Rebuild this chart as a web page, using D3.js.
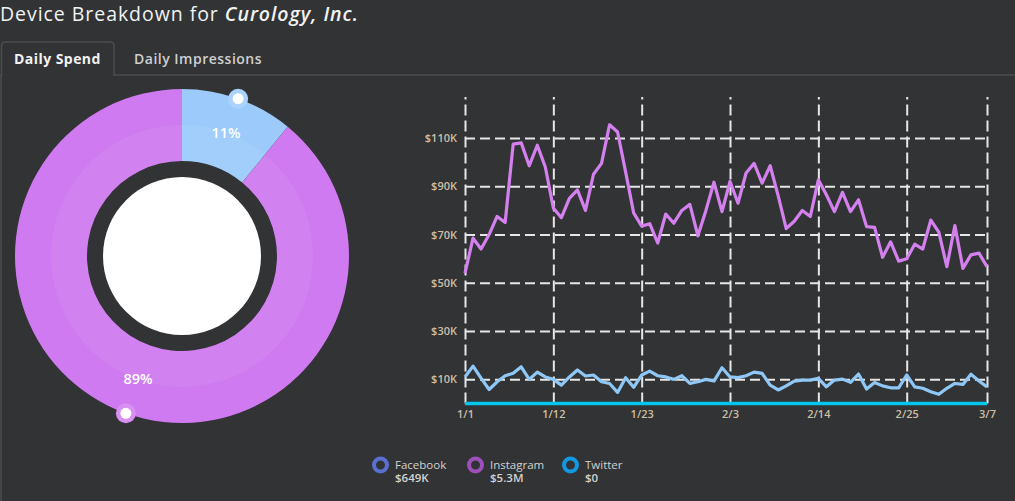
<!DOCTYPE html>
<html><head><meta charset="utf-8">
<script src="https://cdn.jsdelivr.net/npm/d3@7"></script>
<style>
html,body{margin:0;padding:0;background:#313335;}
svg{display:block;font-family:"Open Sans",sans-serif;}
</style></head><body>
<svg id="c" width="1015" height="501"></svg>
<script>
// ---- data ----
const shareLabels = ["Facebook", "Instagram"];
const shareValues = [649, 5300];          // $K
const legendNames = ["Facebook", "Instagram", "Twitter"];
const legendTotals = ["$649K", "$5.3M", "$0"];
const startDate = "2019-01-01";
const endDate = "2019-03-07";
const instagram = [54,68.5,64,70,77.5,75,107.5,108,98.5,107,98,81,77,85,88.5,80,95,99.5,115.5,112.5,
  96,79,73.5,74.5,66.5,78.5,74.7,80,82.5,69.5,80,91.7,79.5,92,83,95.5,99.5,91.3,98.5,86,
  72.5,75.5,80,77.5,92.7,86.5,79.5,87.5,79.5,84.4,73.3,73,60.6,67,59,60,66,64,76,71,
  56.7,73.7,56,61.6,62.3,56.7];
const facebook = [11,15.5,10.5,5.8,9,11.5,12.5,15.2,10,13,11,10,7.6,11,13.9,11.4,11.8,9,8.3,4.6,
  10.7,6.7,11.8,13.4,11.5,11,10,11.5,8.3,9,10,9.3,14.8,11,10.7,11.5,13,12.5,7.6,5.6,
  7.3,9.3,9.7,9.7,10.4,6.9,9.7,10.1,8.8,12.2,6,8.7,7.3,6.5,6.5,11.8,6.9,6.3,4.9,3.8,
  6.3,8.3,7.9,12.1,9.3,6.9];
const twitter = instagram.map(() => 0);
const xTickLabels = ["1/1","1/12","1/23","2/3","2/14","2/25","3/7"];
const yTickValues = [10,30,50,70,90,110];

const svg = d3.select("#c");
const parse = d3.timeParse("%Y-%m-%d");
const dates = d3.timeDay.range(parse(startDate), d3.timeDay.offset(parse(endDate), 1));

// ---- header & tabs ----
const title = svg.append("text").attr("x", 0).attr("y", 21)
  .attr("fill", "#f2f2f2").attr("font-size", 19.5).attr("letter-spacing", 0.95);
title.append("tspan").text("Device Breakdown for ");
title.append("tspan").attr("font-weight", 600).attr("font-style", "italic").text("Curology, Inc.");

svg.append("rect").attr("x", 1).attr("y", 75).attr("width", 1016).attr("height", 430)
  .attr("fill", "#313335").attr("stroke", "#4b4e51").attr("stroke-width", 1.5);
svg.append("path").attr("d", "M1.5,76 V46 Q1.5,42 5.5,42 H110 Q114,42 114,46 V76")
  .attr("fill", "#313335").attr("stroke", "#4b4e51").attr("stroke-width", 1.5);
svg.append("text").attr("x", 14).attr("y", 64).attr("fill", "#f2f2f2")
  .attr("font-size", 14).attr("letter-spacing", 0.45).attr("font-weight", 700).text("Daily Spend");
svg.append("text").attr("x", 134).attr("y", 64).attr("fill", "#cfcfcf")
  .attr("font-size", 14).attr("letter-spacing", 0.5).attr("font-weight", 600).text("Daily Impressions");

// ---- donut ----
const cx = 182, cy = 256, rOuter = 167, rInner = 95;
const donutColors = ["#9ccbfb", "#cf7af0"];
const markerColors = ["#a9d3fc", "#d98ef4"];
const pie = d3.pie().sort(null).value(d => d)(shareValues);
const g = svg.append("g").attr("transform", `translate(${cx},${cy})`);
const arc = d3.arc().innerRadius(rInner).outerRadius(rOuter);
const arcIn = d3.arc().innerRadius(rInner).outerRadius(131);
g.selectAll("path.s").data(pie).join("path").attr("d", arc).attr("fill", (d, i) => donutColors[i]);
g.selectAll("path.o").data(pie).join("path").attr("d", arcIn).attr("fill", "#ffffff").attr("opacity", 0.06);
g.append("circle").attr("r", 79).attr("fill", "#ffffff");
const total = d3.sum(shareValues);
pie.forEach((d, i) => {
  const a = (d.startAngle + d.endAngle) / 2;
  const lr = 131;
  g.append("text").attr("x", lr * Math.sin(a)).attr("y", -lr * Math.cos(a) + 5)
    .attr("text-anchor", "middle").attr("fill", "#ffffff").attr("font-size", 14.5).attr("font-weight", 600)
    .text(Math.round(d.value / total * 100) + "%");
  g.append("circle").attr("cx", rOuter * Math.sin(a)).attr("cy", -rOuter * Math.cos(a))
    .attr("r", 10).attr("fill", markerColors[i]);
  g.append("circle").attr("cx", rOuter * Math.sin(a)).attr("cy", -rOuter * Math.cos(a))
    .attr("r", 5.5).attr("fill", "#ffffff");
});

// ---- line chart ----
const x = d3.scaleTime().domain([dates[0], dates[dates.length - 1]]).range([465, 987]);
const y = d3.scaleLinear().domain([0, 127]).range([403.5, 97]);
const tickDates = xTickLabels.map(s => { const [m, dd] = s.split("/"); return new Date(2019, +m - 1, +dd); });
const gridColor = "#e6e6e6";

const xAxis = svg.append("g").attr("transform", "translate(0,403.5)")
  .call(d3.axisBottom(x).tickValues(tickDates).tickSize(-(403.5 - 97)).tickFormat((d, i) => xTickLabels[i]));
xAxis.select(".domain").remove();
xAxis.selectAll("line").attr("stroke", gridColor).attr("stroke-width", 2).attr("stroke-dasharray", "11,5");
xAxis.selectAll("text").attr("fill", "#cdbfa5").attr("font-size", 11).attr("font-family", "Open Sans")
  .attr("font-weight", 600).attr("dy", "0.55em").attr("y", 8);

const yAxis = svg.append("g").attr("transform", "translate(465,0)")
  .call(d3.axisLeft(y).tickValues(yTickValues).tickSize(-(987 - 465)).tickFormat(d => "$" + d + "K"));
yAxis.select(".domain").remove();
yAxis.selectAll("line").attr("stroke", gridColor).attr("stroke-width", 2).attr("stroke-dasharray", "10,5");
yAxis.selectAll("text").attr("fill", "#cdbfa5").attr("font-size", 11).attr("font-family", "Open Sans")
  .attr("font-weight", 600).attr("x", -8);

const line = d3.line().x((d, i) => x(dates[i])).y(d => y(d)).curve(d3.curveLinear);
svg.append("path").datum(twitter).attr("d", line).attr("fill", "none")
  .attr("stroke", "#00c6ec").attr("stroke-width", 3.5);
svg.append("path").datum(facebook).attr("d", line).attr("fill", "none")
  .attr("stroke", "#8fc8f7").attr("stroke-width", 3.2).attr("stroke-linejoin", "round");
svg.append("path").datum(instagram).attr("d", line).attr("fill", "none")
  .attr("stroke", "#d580ef").attr("stroke-width", 3.2).attr("stroke-linejoin", "round");

// ---- legend ----
const legendColors = ["#5a70d0", "#9e50ba", "#1398e2"];
const legendX = [380.5, 475.5, 570.5];
legendNames.forEach((n, i) => {
  svg.append("circle").attr("cx", legendX[i]).attr("cy", 465).attr("r", 6.5)
    .attr("fill", "none").attr("stroke", legendColors[i]).attr("stroke-width", 4);
  svg.append("text").attr("x", legendX[i] + 14.5).attr("y", 469).attr("fill", "#d2d2d2")
    .attr("font-size", 11.5).text(n);
  svg.append("text").attr("x", legendX[i] + 14.5).attr("y", 482).attr("fill", "#d2d2d2")
    .attr("font-size", 11.5).attr("font-weight", 600).text(legendTotals[i]);
});
</script></body></html>
